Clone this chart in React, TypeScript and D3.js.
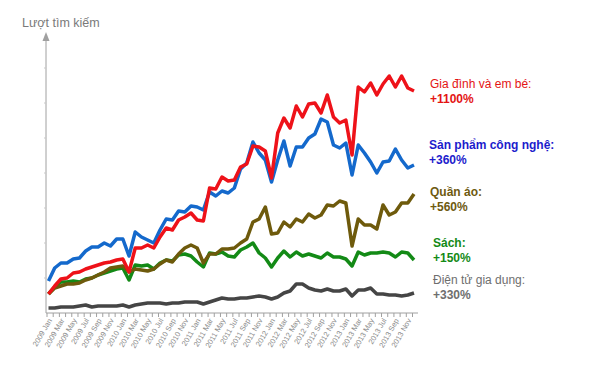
import { useRef, useEffect } from "react";
import * as d3 from "d3";

const WIDTH = 595;
const HEIGHT = 386;

// Monthly categories, 2009 Jan .. 2013 Dec
const YEARS = [2009, 2010, 2011, 2012, 2013];
const MONTH_NAMES = ["Jan", "Feb", "Mar", "Apr", "May", "Jun", "Jul", "Aug", "Sep", "Oct", "Nov", "Dec"];
const MONTHS = YEARS.flatMap((y) => MONTH_NAMES.map((m) => `${y} ${m}`));

// Search volume index (arbitrary units)
const FAMILY = [19, 27, 34, 35, 40, 41, 44, 46, 48, 50, 51, 53, 54, 41, 65, 65, 68, 65, 76, 85, 83, 93, 96, 100, 93, 92, 125, 124, 136, 132, 133, 146, 149, 167, 166, 162, 135, 180, 195, 185, 207, 196, 209, 210, 200, 218, 196, 190, 193, 158, 226, 221, 230, 218, 229, 237, 226, 237, 225, 222];
const TECH = [32, 45, 50, 50, 54, 55, 62, 66, 66, 70, 67, 74, 74, 57, 81, 76, 73, 70, 83, 94, 93, 102, 101, 107, 106, 103, 121, 117, 122, 120, 125, 144, 150, 171, 160, 153, 131, 153, 172, 147, 166, 166, 175, 179, 194, 191, 168, 165, 170, 138, 168, 160, 151, 140, 151, 152, 164, 153, 145, 148];
const CLOTHES = [19, 25, 27, 29, 29, 30, 33, 35, 38, 41, 45, 46, 47, 41, 44, 43, 42, 44, 49, 53, 51, 59, 65, 68, 65, 50, 59, 59, 64, 64, 65, 70, 74, 91, 94, 106, 79, 80, 91, 86, 94, 91, 99, 95, 98, 108, 107, 112, 110, 67, 94, 88, 88, 84, 108, 98, 101, 110, 110, 119];
const BOOKS = [19, 26, 31, 31, 32, 31, 34, 35, 38, 40, 42, 44, 45, 33, 48, 47, 48, 44, 50, 53, 52, 58, 59, 57, 51, 46, 60, 59, 61, 57, 56, 63, 66, 70, 60, 55, 46, 55, 62, 56, 61, 57, 59, 57, 55, 60, 56, 56, 54, 47, 61, 58, 60, 60, 61, 60, 56, 61, 60, 53];
const APPLIANCES = [5, 5, 6, 6, 6, 7, 8, 6, 7, 7, 7, 7, 8, 6, 8, 9, 10, 10, 10, 9, 10, 10, 11, 11, 11, 9, 11, 13, 15, 14, 14, 15, 15, 16, 17, 16, 14, 16, 20, 22, 29, 29, 25, 23, 22, 24, 22, 22, 24, 17, 23, 23, 25, 19, 19, 18, 18, 17, 18, 20];

const SERIES = [
  { name: "Điện tử gia dụng:", change: "+330%", values: APPLIANCES, color: "#454545", text: "#6e6e6e", bold: false, labelX: 433, labelY: 284 },
  { name: "Sách:", change: "+150%", values: BOOKS, color: "#138a16", text: "#138a16", bold: true, labelX: 433, labelY: 247 },
  { name: "Quần áo:", change: "+560%", values: CLOTHES, color: "#6e5a0c", text: "#6e5a10", bold: true, labelX: 430, labelY: 196 },
  { name: "Sản phẩm công nghệ:", change: "+360%", values: TECH, color: "#1469cc", text: "#1c1ccc", bold: true, labelX: 429, labelY: 149 },
  { name: "Gia đình và em bé:", change: "+1100%", values: FAMILY, color: "#ee1219", text: "#e41414", bold: false, labelX: 430, labelY: 88 },
];

const Y_TICKS = [35, 70, 105, 140, 175, 210, 245];

export default function App() {
  const svgRef = useRef<SVGSVGElement>(null);

  useEffect(() => {
    const svg = d3.select(svgRef.current);
    svg.selectAll("*").remove();

    const x = d3.scalePoint<string>().domain(MONTHS).range([48.5, 414]);
    const y = d3.scaleLinear().domain([0, 280]).range([313, 33]);
    const font = "'Liberation Sans', Arial, Helvetica, sans-serif";

    // Y axis title
    svg.append("text")
      .attr("x", 22)
      .attr("y", 27)
      .attr("font-family", font)
      .attr("font-size", 12.5)
      .attr("fill", "#7a7a7a")
      .text("Lượt tìm kiếm");

    // Y axis with arrow
    svg.append("line")
      .attr("x1", 46).attr("x2", 46)
      .attr("y1", y(0)).attr("y2", y(278))
      .attr("stroke", "#a0a0a0").attr("stroke-width", 1);
    svg.append("path")
      .attr("d", `M42.5,${y(272)} L46,${y(281)} L49.5,${y(272)} Z`)
      .attr("fill", "#a0a0a0");
    svg.append("g")
      .selectAll("line")
      .data(Y_TICKS)
      .join("line")
      .attr("x1", 44).attr("x2", 46)
      .attr("y1", (d) => y(d)).attr("y2", (d) => y(d))
      .attr("stroke", "#c8c8c8");

    // X axis
    const xAxis = svg.append("g").attr("transform", `translate(0,${y(0)})`);
    xAxis.append("line")
      .attr("x1", 46).attr("x2", 418)
      .attr("stroke", "#a0a0a0");
    xAxis.selectAll("line.tick")
      .data(MONTHS)
      .join("line")
      .attr("class", "tick")
      .attr("x1", (d) => x(d)! - 1.5).attr("x2", (d) => x(d)! - 1.5)
      .attr("y1", 0).attr("y2", 4)
      .attr("stroke", "#a0a0a0");
    xAxis.selectAll("text")
      .data(MONTHS.filter((_, i) => i % 2 === 0))
      .join("text")
      .attr("transform", (d) => `translate(${x(d)! + 1.5},${6}) rotate(-60)`)
      .attr("text-anchor", "end")
      .attr("dy", "0.35em")
      .attr("font-family", font)
      .attr("font-size", 7.5)
      .attr("fill", "#8a8a8a")
      .text((d) => d);

    // Lines
    const line = d3.line<number>()
      .x((_, i) => x(MONTHS[i])!)
      .y((d) => y(d));

    for (const s of SERIES) {
      svg.append("path")
        .datum(s.values)
        .attr("fill", "none")
        .attr("stroke", s.color)
        .attr("stroke-width", 3.5)
        .attr("stroke-linejoin", "round")
        .attr("stroke-linecap", "butt")
        .attr("d", line);
    }

    // Labels
    for (const s of SERIES) {
      const t = svg.append("text")
        .attr("font-family", font)
        .attr("font-size", 12)
        .attr("fill", s.text);
      t.append("tspan")
        .attr("x", s.labelX).attr("y", s.labelY)
        .attr("font-weight", s.bold ? "bold" : "normal")
        .text(s.name);
      t.append("tspan")
        .attr("x", s.labelX).attr("y", s.labelY + 15)
        .attr("font-weight", "bold")
        .text(s.change);
    }
  }, []);

  return (
    <svg
      ref={svgRef}
      width={WIDTH}
      height={HEIGHT}
      viewBox={`0 0 ${WIDTH} ${HEIGHT}`}
      style={{ position: "absolute", left: 0, top: 0, background: "#fff" }}
    />
  );
}
